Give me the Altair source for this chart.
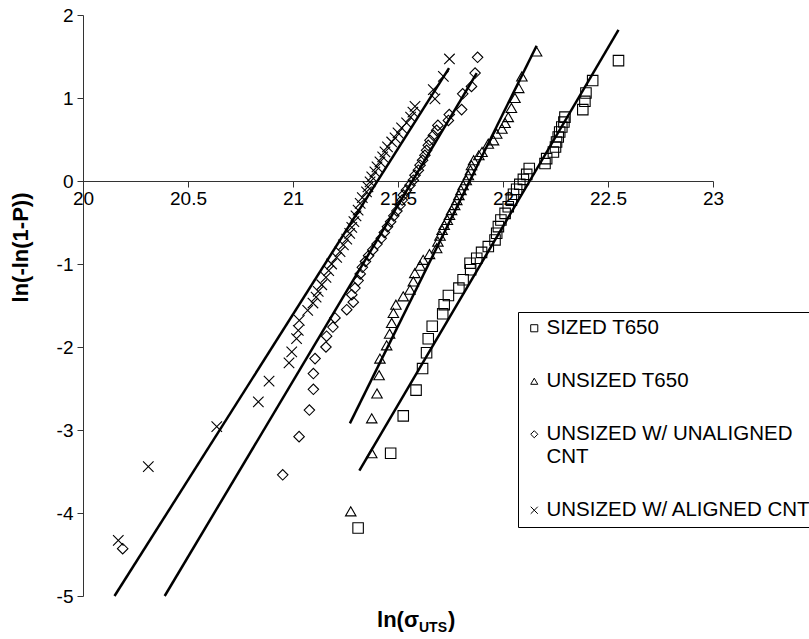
import altair as alt
import pandas as pd

# ---- data ----
series_names = ["SIZED T650", "UNSIZED T650", "UNSIZED W/ UNALIGNED CNT", "UNSIZED W/ ALIGNED CNT"]

sized_x = [21.31, 21.465, 21.525, 21.586, 21.617, 21.636, 21.644, 21.663, 21.713, 21.72, 21.74, 21.79,
           21.81, 21.846, 21.843, 21.875, 21.898, 21.93, 21.962, 21.97, 21.978, 21.99, 22.01, 22.025,
           22.04, 22.05, 22.065, 22.08, 22.097, 22.113, 22.125, 22.20, 22.208, 22.24, 22.25, 22.255,
           22.263, 22.27, 22.28, 22.29, 22.295, 22.38, 22.39, 22.395, 22.427, 22.55]
sized_y = [-4.18, -3.28, -2.83, -2.52, -2.26, -2.07, -1.90, -1.75, -1.60, -1.49, -1.38, -1.29,
           -1.19, -1.07, -0.99, -0.93, -0.86, -0.79, -0.71, -0.63, -0.55, -0.47, -0.39, -0.31,
           -0.23, -0.16, -0.10, -0.04, 0.02, 0.08, 0.15, 0.21, 0.27, 0.35, 0.41, 0.47,
           0.53, 0.59, 0.65, 0.71, 0.77, 0.86, 0.96, 1.06, 1.21, 1.45]

unsized_x = [21.275, 21.375, 21.375, 21.40, 21.41, 21.414, 21.446, 21.46, 21.47, 21.478, 21.49, 21.525,
             21.557, 21.573, 21.58, 21.605, 21.62, 21.65, 21.684, 21.69, 21.70, 21.71, 21.72, 21.735,
             21.745, 21.755, 21.77, 21.78, 21.79, 21.80, 21.81, 21.825, 21.835, 21.845, 21.85, 21.86,
             21.885, 21.90, 21.93, 21.955, 21.97, 21.995, 22.01, 22.025, 22.04, 22.057, 22.075, 22.09, 22.16]
unsized_y = [-3.98, -3.28, -2.86, -2.56, -2.34, -2.14, -1.98, -1.84, -1.71, -1.59, -1.49, -1.39,
             -1.31, -1.21, -1.11, -1.02, -0.95, -0.88, -0.81, -0.73, -0.66, -0.59, -0.53, -0.47,
             -0.41, -0.35, -0.29, -0.23, -0.17, -0.11, -0.05, 0.01, 0.07, 0.13, 0.19, 0.25,
             0.31, 0.35, 0.45, 0.49, 0.57, 0.63, 0.70, 0.77, 0.88, 1.00, 1.12, 1.26, 1.56]

unaligned_x = [20.189, 20.951, 21.029, 21.078, 21.097, 21.097, 21.105, 21.157, 21.16, 21.19, 21.20, 21.256,
               21.287, 21.28, 21.295, 21.31, 21.32, 21.33, 21.345, 21.36, 21.38, 21.40, 21.42, 21.435,
               21.45, 21.465, 21.48, 21.495, 21.51, 21.52, 21.525, 21.54, 21.557, 21.573, 21.581, 21.597,
               21.605, 21.617, 21.628, 21.636, 21.644, 21.652, 21.668, 21.684, 21.69, 21.74, 21.744, 21.803,
               21.808, 21.85, 21.867, 21.879]
unaligned_y = [-4.43, -3.54, -3.08, -2.76, -2.51, -2.32, -2.14, -2.00, -1.87, -1.76, -1.65, -1.55,
               -1.46, -1.37, -1.29, -1.20, -1.12, -1.04, -0.97, -0.90, -0.83, -0.76, -0.69, -0.62,
               -0.55, -0.49, -0.42, -0.36, -0.29, -0.23, -0.17, -0.11, -0.05, 0.01, 0.07, 0.13,
               0.19, 0.25, 0.31, 0.37, 0.43, 0.49, 0.55, 0.61, 0.67, 0.73, 0.80, 0.86,
               1.05, 1.14, 1.30, 1.49]

aligned_x = [20.168, 20.311, 20.637, 20.835, 20.886, 20.981, 20.994, 21.017, 21.025, 21.03, 21.07, 21.095,
             21.11, 21.12, 21.137, 21.157, 21.17, 21.184, 21.208, 21.224, 21.24, 21.256, 21.27, 21.28,
             21.29, 21.30, 21.31, 21.32, 21.33, 21.35, 21.357, 21.367, 21.375, 21.39, 21.40, 21.414,
             21.427, 21.438, 21.45, 21.47, 21.486, 21.50, 21.517, 21.541, 21.56, 21.571, 21.581, 21.676,
             21.668, 21.716, 21.745]
aligned_y = [-4.33, -3.44, -2.96, -2.66, -2.41, -2.19, -2.06, -1.90, -1.80, -1.68, -1.56, -1.47,
             -1.40, -1.33, -1.25, -1.16, -1.08, -1.00, -0.92, -0.85, -0.77, -0.70, -0.63, -0.56,
             -0.49, -0.42, -0.35, -0.27, -0.20, -0.13, -0.07, -0.01, 0.05, 0.11, 0.17, 0.23,
             0.29, 0.35, 0.41, 0.47, 0.52, 0.58, 0.64, 0.70, 0.77, 0.83, 0.90, 0.99,
             1.10, 1.26, 1.47]

# fitted Weibull lines: end points (x, y) per series
fit_x = [[21.316, 22.55], [21.271, 22.16], [20.389, 21.875], [20.15, 21.743]]
fit_y = [[-3.49, 1.82], [-2.92, 1.63], [-5.0, 1.30], [-5.0, 1.36]]

x_ticks = [20, 20.5, 21, 21.5, 22, 22.5, 23]
y_ticks = [-5, -4, -3, -2, -1, 0, 1, 2]

# ---- tables ----
series_x = [sized_x, unsized_x, unaligned_x, aligned_x]
series_y = [sized_y, unsized_y, unaligned_y, aligned_y]
rows = []
for name, xs_, ys_ in zip(series_names, series_x, series_y):
    for a, b in zip(xs_, ys_):
        rows.append({"x": a, "y": b, "series": name})
pts = pd.DataFrame(rows)

lrows = []
for name, lx, ly in zip(series_names, fit_x, fit_y):
    for a, b in zip(lx, ly):
        lrows.append({"x": a, "y": b, "series": name})
lines_df = pd.DataFrame(lrows)

FONT = "Liberation Sans"
W, H = 630, 581
xscale = alt.Scale(domain=[20, 23], nice=False, zero=False)
yscale = alt.Scale(domain=[-5, 2], nice=False, zero=False)
zero_offset = -H * (0 - (-5)) / 7.0  # move x axis up to y = 0

shape_scale = alt.Scale(domain=series_names,
                        range=["square", "triangle-up", "diamond", "M-1,-1L1,1M-1,1L1,-1"])

x_enc = alt.X("x:Q", scale=xscale,
              axis=alt.Axis(values=x_ticks, offset=zero_offset, title=None, grid=False,
                            labelExpr="datum.value", labelFont=FONT, labelFontSize=19,
                            labelColor="black", tickSize=6, tickColor="#333", domainColor="#333",
                            labelPadding=2, labelOverlap=False, labelFlush=False))
y_enc = alt.Y("y:Q", scale=yscale,
              axis=alt.Axis(values=y_ticks, title="ln(-ln(1-P))", grid=False,
                            labelExpr="datum.value", labelFont=FONT, labelFontSize=19,
                            labelColor="black", tickSize=6, tickColor="#333", domainColor="#333",
                            labelPadding=4, titleFont=FONT, titleFontSize=22, titleFontWeight="bold",
                            titleColor="black", titleX=-63, titleY=232, titleAngle=-90,
                            titleAlign="center", titleBaseline="middle"))

lines = alt.Chart(lines_df).mark_line(color="black", strokeWidth=2.5).encode(
    x=x_enc, y=y_enc, detail="series:N")

points = alt.Chart(pts).mark_point(filled=False, color="black", strokeWidth=1.1, size=110,
                                   opacity=1).encode(
    x="x:Q", y="y:Q",
    shape=alt.Shape("series:N", scale=shape_scale,
                    legend=alt.Legend(orient="none", legendX=435, legendY=297, title=None,
                                      strokeColor="black", fillColor="white", padding=6,
                                      rowPadding=32, symbolSize=50, symbolStrokeColor="black",
                                      symbolFillColor="white", symbolStrokeWidth=1,
                                      labelFont=FONT, labelFontSize=20.5, labelColor="black",
                                      labelLimit=600, labelOffset=2,
                                      labelExpr="datum.label == 'UNSIZED W/ UNALIGNED CNT' ? ['UNSIZED W/ UNALIGNED', 'CNT'] : datum.label")),
)

one = pd.DataFrame({"a": [0]})
t1 = alt.Chart(one).mark_text(text="ln(σ", font=FONT, fontSize=22, fontWeight="bold",
                              align="right", baseline="middle", color="black").encode(
    x=alt.value(336), y=alt.value(605))
t2 = alt.Chart(one).mark_text(text="UTS", font=FONT, fontSize=14, fontWeight="bold",
                              align="left", baseline="middle", color="black").encode(
    x=alt.value(336), y=alt.value(613))
t3 = alt.Chart(one).mark_text(text=")", font=FONT, fontSize=22, fontWeight="bold",
                              align="left", baseline="middle", color="black").encode(
    x=alt.value(365), y=alt.value(605))

chart = alt.layer(lines, points, t1, t2, t3).properties(
    width=W, height=H,
    autosize=alt.AutoSizeParams(type="none"),
    padding={"left": 83, "top": 15, "right": 96, "bottom": 43},
).configure_view(strokeWidth=0)

chart.save("out.html", embed_options={"renderer": "svg", "actions": False})
